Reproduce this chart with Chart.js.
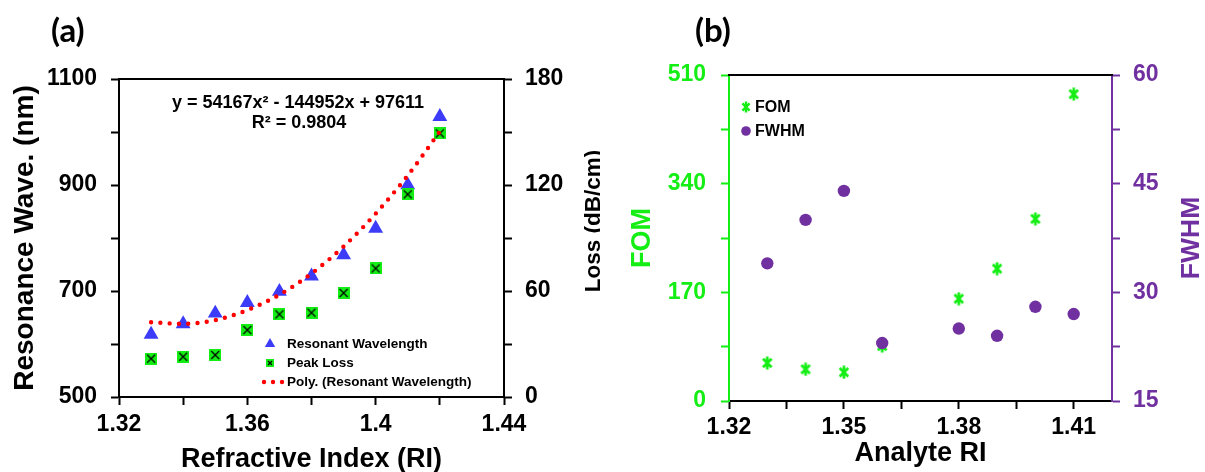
<!DOCTYPE html>
<html>
<head>
<meta charset="utf-8">
<script src="https://cdn.jsdelivr.net/npm/chart.js@4.4.1/dist/chart.umd.min.js"></script>
<style>
  html, body { margin: 0; padding: 0; background: #fff; overflow: hidden; }
  #wrap { position: relative; width: 1205px; height: 472px; }
  .panel { position: absolute; top: 0; height: 472px; }
  #panelA { left: 0; width: 600px; }
  #panelB { left: 600px; width: 605px; }
  .tag { position: absolute; font-family: Lato, "Open Sans", sans-serif; font-weight: bold; font-size: 33px; line-height: 1; }
</style>
</head>
<body>
<div id="wrap">
  <div class="panel" id="panelA"><canvas id="chartA" width="600" height="472"></canvas></div>
  <div class="panel" id="panelB"><canvas id="chartB" width="605" height="472"></canvas></div>
  <div class="tag" style="left:51px; top:13px;">(a)</div>
  <div class="tag" style="left:695px; top:13px;">(b)</div>
</div>
<script>
"use strict";

// ---- panel (a) data ----
const riA = [1.33, 1.34, 1.35, 1.36, 1.37, 1.38, 1.39, 1.40, 1.41, 1.42];
const resonantWl = [618, 638, 658, 678, 699, 728, 768, 818, 900, 1029];
const peakLoss = [21.7, 22.8, 23.8, 37.9, 46.8, 47.7, 58.9, 72.8, 114.7, 149.2];
const polyFit = [641, 638, 645, 664, 693, 733, 784, 846, 918, 1001];

const xTicksA = [1.32, 1.34, 1.36, 1.38, 1.40, 1.42, 1.44];
const xLabelsA = [1.32, 1.36, 1.40, 1.44];
const yTicksA = [500, 600, 700, 800, 900, 1000, 1100];
const yLabelsA = [500, 700, 900, 1100];
const y1TicksA = [0, 30, 60, 90, 120, 150, 180];
const y1LabelsA = [0, 60, 120, 180];

// ---- panel (b) data ----
const riB = [1.33, 1.34, 1.35, 1.36, 1.38, 1.39, 1.40, 1.41];
const fom = [59.5, 49.6, 44.9, 86, 160, 207, 285, 480];
const fwhm = [34, 40, 44, 23, 25, 24, 28, 27];

const xTicksB = [1.32, 1.335, 1.35, 1.365, 1.38, 1.395, 1.41];
const xLabelsB = [1.32, 1.35, 1.38, 1.41];
const yTicksB = [0, 85, 170, 255, 340, 425, 510];
const yLabelsB = [0, 170, 340, 510];
const y1TicksB = [15, 22.5, 30, 37.5, 45, 52.5, 60];
const y1LabelsB = [15, 30, 45, 60];

// ---- styling ----
const FONT = 'Arial, "Liberation Sans", Helvetica, sans-serif';
const BLUE = '#3c3cf8';
const GREEN = '#14ee14';
const PURPLE = '#7030a0';
const RED = '#ff0000';
const tickFont = { family: FONT, size: 23, weight: 'bold' };

const toXY = (xs, ys) => xs.map((x, i) => ({ x: x, y: ys[i] }));
const fixedTicks = list => (scale => { scale.ticks = list.map(v => ({ value: v })); });
const labelOnly = list => (v => list.includes(v) ? String(v) : '');

function makeMarker(size, draw) {
    const c = document.createElement('canvas');
    c.width = size;
    c.height = size;
    draw(c.getContext('2d'), size);
    return c;
}

function boxCross(size) {
    return makeMarker(size, (g, s) => {
        g.fillStyle = GREEN;
        g.fillRect(0, 0, s, s);
        g.strokeStyle = '#000';
        g.lineWidth = 1.2;
        g.beginPath();
        g.moveTo(2, 2); g.lineTo(s - 2, s - 2);
        g.moveTo(s - 2, 2); g.lineTo(2, s - 2);
        g.stroke();
    });
}

function star(size, lw) {
    return makeMarker(size, (g, s) => {
        const a = lw, b = s - lw;
        g.strokeStyle = GREEN;
        g.lineWidth = lw;
        g.beginPath();
        g.moveTo(a, a); g.lineTo(b, b);
        g.moveTo(b, a); g.lineTo(a, b);
        g.moveTo(s / 2, 0.5); g.lineTo(s / 2, s - 0.5);
        g.stroke();
    });
}

const lossMarker = boxCross(12);
const lossMarkerSmall = boxCross(8);
const fomMarker = star(14, 2.7);
const fomMarkerSmall = star(12, 2.4);

function drawText(ctx, str, x, y, size, color, align) {
    ctx.font = 'bold ' + size + 'px ' + FONT;
    ctx.fillStyle = color;
    ctx.textAlign = align || 'left';
    ctx.textBaseline = 'middle';
    ctx.fillText(str, x, y);
}

function upTitle(ctx, str, x, y, size, color) {
    ctx.save();
    ctx.translate(x, y);
    ctx.rotate(-Math.PI / 2);
    drawText(ctx, str, 0, 0, size, color, 'center');
    ctx.restore();
}

function topFrame(chart) {
    const a = chart.chartArea, ctx = chart.ctx;
    ctx.save();
    ctx.strokeStyle = '#000';
    ctx.lineWidth = 2;
    ctx.beginPath();
    ctx.moveTo(a.left - 1, a.top);
    ctx.lineTo(a.right + 1, a.top);
    ctx.stroke();
    ctx.restore();
}

function yScale(opts) {
    return {
        position: opts.position,
        min: opts.min,
        max: opts.max,
        afterBuildTicks: fixedTicks(opts.ticks),
        afterFit: s => { s.width = opts.width; },
        ticks: { callback: labelOnly(opts.labels), font: tickFont, color: opts.color, padding: opts.padding },
        grid: { drawOnChartArea: false, tickLength: 8, tickWidth: 2, tickColor: opts.color },
        border: { color: opts.color, width: 2 },
        title: opts.title || { display: false }
    };
}

function xScale(opts) {
    return {
        type: 'linear',
        position: 'bottom',
        min: opts.min,
        max: opts.max,
        afterBuildTicks: fixedTicks(opts.ticks),
        afterFit: s => { s.height = opts.height; },
        ticks: { callback: labelOnly(opts.labels), font: tickFont, color: '#000', padding: opts.padding, autoSkip: false, maxRotation: 0 },
        grid: { drawOnChartArea: false, tickLength: 8, tickWidth: 2, tickColor: '#000' },
        border: { color: '#000', width: 2 },
        title: opts.title
    };
}

// ==========================================
// (a) Resonant wavelength and peak loss
// ==========================================
const extrasA = {
    id: 'extrasA',
    afterDraw(chart) {
        const ctx = chart.ctx;
        topFrame(chart);
        upTitle(ctx, 'Loss (dB/cm)', 594, 221, 22.5, '#000');

        drawText(ctx, 'y = 54167x\u00B2 - 144952x + 97611', 298, 103, 18, '#000', 'center');
        drawText(ctx, 'R\u00B2 = 0.9804', 299, 123, 18, '#000', 'center');

        // legend
        ctx.save();
        ctx.fillStyle = BLUE;
        Chart.helpers.drawPoint(ctx, { pointStyle: 'triangle', radius: 6, rotation: 0, borderWidth: 0 }, 270, 344);
        ctx.drawImage(lossMarkerSmall, 266, 359);
        ctx.fillStyle = RED;
        [264, 273, 282].forEach(x => {
            ctx.beginPath();
            ctx.arc(x, 382, 2.2, 0, Math.PI * 2);
            ctx.fill();
        });
        ctx.restore();
        drawText(ctx, 'Resonant Wavelength', 287, 344, 13.5, '#000');
        drawText(ctx, 'Peak Loss', 287, 363, 13.5, '#000');
        drawText(ctx, 'Poly. (Resonant Wavelength)', 287, 382, 13.5, '#000');
    }
};

new Chart(document.getElementById('chartA'), {
    type: 'scatter',
    data: {
        datasets: [{
            type: 'line',
            label: 'Poly. (Resonant Wavelength)',
            data: toXY(riA, polyFit),
            yAxisID: 'y',
            order: 0,
            borderColor: RED,
            borderWidth: 4.4,
            borderDash: [0, 9.3],
            borderCapStyle: 'round',
            cubicInterpolationMode: 'monotone',
            pointRadius: 0,
            fill: false
        }, {
            label: 'Peak Loss',
            data: toXY(riA, peakLoss),
            yAxisID: 'y1',
            order: 1,
            pointStyle: lossMarker,
            pointRadius: 6
        }, {
            label: 'Resonant Wavelength',
            data: toXY(riA, resonantWl),
            yAxisID: 'y',
            order: 2,
            pointStyle: 'triangle',
            pointRadius: 8.6,
            backgroundColor: BLUE,
            borderColor: BLUE,
            borderWidth: 0
        }]
    },
    options: {
        responsive: false,
        animation: false,
        layout: { padding: { top: 79, left: 0, right: 0, bottom: 0 } },
        plugins: { legend: { display: false }, tooltip: { enabled: false } },
        scales: {
            x: xScale({
                min: 1.32, max: 1.44, ticks: xTicksA, labels: xLabelsA, height: 75, padding: 6,
                title: {
                    display: true, text: 'Refractive Index (RI)', color: '#000',
                    font: { family: FONT, size: 27, weight: 'bold', lineHeight: 0.9 },
                    padding: { top: 0, bottom: 0 }
                }
            }),
            y: yScale({
                position: 'left', min: 500, max: 1100, ticks: yTicksA, labels: yLabelsA,
                width: 119, padding: 14, color: '#000',
                title: {
                    display: true, text: 'Resonance Wave. (nm)', color: '#000',
                    font: { family: FONT, size: 28, weight: 'bold', lineHeight: 0.86 },
                    padding: { top: 13, bottom: 0 }
                }
            }),
            y1: yScale({
                position: 'right', min: 0, max: 180, ticks: y1TicksA, labels: y1LabelsA,
                width: 96, padding: 13, color: '#000'
            })
        }
    },
    plugins: [extrasA]
});

// ==========================================
// (b) FOM and FWHM
// ==========================================
const extrasB = {
    id: 'extrasB',
    afterDraw(chart) {
        const ctx = chart.ctx;
        topFrame(chart);
        upTitle(ctx, 'FWHM', 592, 238, 26.5, PURPLE);

        // legend
        ctx.save();
        ctx.drawImage(fomMarkerSmall, 140, 101);
        ctx.fillStyle = PURPLE;
        ctx.beginPath();
        ctx.arc(146, 131, 4.8, 0, Math.PI * 2);
        ctx.fill();
        ctx.restore();
        drawText(ctx, 'FOM', 155, 108, 16, '#000');
        drawText(ctx, 'FWHM', 155, 132, 16, '#000');
    }
};

new Chart(document.getElementById('chartB'), {
    type: 'scatter',
    data: {
        datasets: [{
            label: 'FWHM',
            data: toXY(riB, fwhm),
            yAxisID: 'y1',
            order: 0,
            pointStyle: 'circle',
            pointRadius: 6.2,
            backgroundColor: PURPLE,
            borderColor: PURPLE,
            borderWidth: 0
        }, {
            label: 'FOM',
            data: toXY(riB, fom),
            yAxisID: 'y',
            order: 1,
            pointStyle: fomMarker,
            pointRadius: 7
        }]
    },
    options: {
        responsive: false,
        animation: false,
        layout: { padding: { top: 75, left: 0, right: 0, bottom: 0 } },
        plugins: { legend: { display: false }, tooltip: { enabled: false } },
        scales: {
            x: xScale({
                min: 1.32, max: 1.42, ticks: xTicksB, labels: xLabelsB, height: 71, padding: 5,
                title: {
                    display: true, text: 'Analyte RI', color: '#000',
                    font: { family: FONT, size: 27, weight: 'bold', lineHeight: 0.9 },
                    padding: { top: 0, bottom: 6 }
                }
            }),
            y: yScale({
                position: 'left', min: 0, max: 510, ticks: yTicksB, labels: yLabelsB,
                width: 129, padding: 15, color: GREEN,
                title: {
                    display: true, text: 'FOM', color: GREEN,
                    font: { family: FONT, size: 27, weight: 'bold', lineHeight: 0.9 },
                    padding: { top: 30, bottom: 0 }
                }
            }),
            y1: yScale({
                position: 'right', min: 15, max: 60, ticks: y1TicksB, labels: y1LabelsB,
                width: 93, padding: 13, color: PURPLE
            })
        }
    },
    plugins: [extrasB]
});
</script>
</body>
</html>
